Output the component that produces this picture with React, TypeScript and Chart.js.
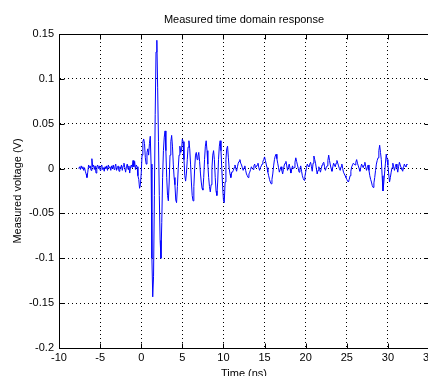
import React, { useEffect, useRef } from "react";
import { Chart, registerables } from "chart.js";

Chart.register(...registerables);

const TITLE = "Measured time domain response";
const X_TITLE = "Time (ns)";
const Y_TITLE = "Measured voltage (V)";

// Pre-pulse noise
const timesA = [-7.6, -7.5, -7.4, -7.3, -7.2, -7.1, -7.0, -6.9, -6.8, -6.7, -6.6, -6.5, -6.4, -6.3, -6.2, -6.1, -6.0, -5.9, -5.8, -5.7, -5.6, -5.5, -5.4, -5.3, -5.2, -5.1, -5.0, -4.9, -4.8, -4.7, -4.6, -4.5, -4.4, -4.3, -4.2, -4.1, -4.0, -3.9, -3.8, -3.7, -3.6, -3.5, -3.4, -3.3, -3.2, -3.1, -3.0, -2.9, -2.8, -2.7, -2.6, -2.5, -2.4, -2.3, -2.2, -2.1, -2.0, -1.9, -1.8, -1.7, -1.6, -1.5, -1.4, -1.3, -1.2, -1.1, -1.0, -0.9, -0.8, -0.7, -0.6];
const voltsA = [0.000, 0.002, -0.001, 0.003, 0.000, 0.002, -0.002, 0.001, -0.003, -0.006, -0.010, -0.004, 0.004, 0.001, 0.003, -0.002, 0.011, 0.002, 0.004, -0.001, 0.003, -0.005, 0.002, 0.004, 0.000, 0.003, -0.002, 0.002, 0.004, -0.001, 0.001, -0.003, 0.002, 0.000, 0.003, -0.002, 0.004, 0.001, 0.002, -0.002, 0.003, 0.000, 0.004, -0.001, 0.002, 0.005, -0.002, 0.001, 0.003, -0.003, 0.002, 0.000, 0.004, -0.002, 0.003, 0.006, 0.001, -0.004, 0.002, 0.005, -0.001, 0.003, -0.005, 0.002, 0.004, 0.001, 0.009, 0.002, 0.008, -0.001, 0.004];

// Main pulse and ringing
const timesB = [-0.5, -0.4, -0.3, -0.2, -0.1, 0.0, 0.1, 0.2, 0.3, 0.4, 0.5, 0.6, 0.7, 0.8, 0.9, 1.0, 1.1, 1.2, 1.3, 1.4, 1.5, 1.6, 1.7, 1.8, 1.9, 2.0, 2.1, 2.2, 2.3, 2.4, 2.5, 2.6, 2.7, 2.8, 2.9, 3.0, 3.1, 3.2, 3.3, 3.4, 3.5, 3.6, 3.7, 3.8, 3.9, 4.0, 4.1, 4.2, 4.3, 4.4, 4.5, 4.6, 4.7, 4.8, 4.9, 5.0, 5.1, 5.2, 5.3, 5.4, 5.5, 5.6, 5.7, 5.8, 5.9, 6.0, 6.1, 6.2, 6.3, 6.4, 6.5, 6.6, 6.7, 6.8, 6.9, 7.0, 7.1, 7.2, 7.3, 7.4, 7.5, 7.6, 7.7, 7.8, 7.9, 8.0, 8.1, 8.2, 8.3, 8.4, 8.5, 8.6, 8.7, 8.8, 8.9, 9.0, 9.1, 9.2, 9.3, 9.4, 9.5, 9.6, 9.7, 9.8, 9.9, 10.0, 10.1, 10.2, 10.3, 10.4, 10.5, 10.6, 10.7, 10.8, 10.9, 11.0];
const voltsB = [0.002, -0.008, -0.012, -0.022, -0.018, -0.005, 0.015, 0.030, 0.033, 0.028, 0.012, 0.005, 0.018, 0.022, 0.015, 0.028, 0.036, 0.005, -0.100, -0.143, -0.120, -0.030, 0.060, 0.130, 0.143, 0.090, 0.030, -0.030, -0.080, -0.100, -0.060, -0.010, 0.020, 0.035, 0.042, 0.020, -0.010, -0.030, -0.036, -0.015, 0.015, 0.030, 0.037, 0.025, 0.005, -0.010, -0.018, -0.035, -0.038, -0.020, 0.000, 0.015, 0.025, 0.018, 0.020, 0.033, 0.030, 0.010, -0.008, -0.014, -0.005, 0.010, 0.024, 0.031, 0.022, 0.005, -0.015, -0.030, -0.036, -0.020, 0.000, 0.015, 0.018, 0.010, 0.014, 0.018, 0.008, -0.005, -0.015, -0.022, -0.024, -0.010, 0.010, 0.025, 0.031, 0.020, 0.005, -0.010, -0.020, -0.026, -0.018, 0.000, 0.015, 0.020, 0.010, -0.010, -0.025, -0.030, -0.015, 0.010, 0.025, 0.031, 0.020, 0.000, -0.020, -0.035, -0.038, -0.015, 0.010, 0.022, 0.025, 0.012, 0.000, -0.006, -0.010, -0.004];

// Tail noise and late echo
const timesC = [11.1, 11.2, 11.3, 11.4, 11.5, 11.6, 11.7, 11.8, 11.9, 12.0, 12.1, 12.2, 12.3, 12.4, 12.5, 12.6, 12.7, 12.8, 12.9, 13.0, 13.1, 13.2, 13.3, 13.4, 13.5, 13.6, 13.7, 13.8, 13.9, 14.0, 14.1, 14.2, 14.3, 14.4, 14.5, 14.6, 14.7, 14.8, 14.9, 15.0, 15.1, 15.2, 15.3, 15.4, 15.5, 15.6, 15.7, 15.8, 15.9, 16.0, 16.1, 16.2, 16.3, 16.4, 16.5, 16.6, 16.7, 16.8, 16.9, 17.0, 17.1, 17.2, 17.3, 17.4, 17.5, 17.6, 17.7, 17.8, 17.9, 18.0, 18.1, 18.2, 18.3, 18.4, 18.5, 18.6, 18.7, 18.8, 18.9, 19.0, 19.1, 19.2, 19.3, 19.4, 19.5, 19.6, 19.7, 19.8, 19.9, 20.0, 20.1, 20.2, 20.3, 20.4, 20.5, 20.6, 20.7, 20.8, 20.9, 21.0, 21.1, 21.2, 21.3, 21.4, 21.5, 21.6, 21.7, 21.8, 21.9, 22.0, 22.1, 22.2, 22.3, 22.4, 22.5, 22.6, 22.7, 22.8, 22.9, 23.0, 23.1, 23.2, 23.3, 23.4, 23.5, 23.6, 23.7, 23.8, 23.9, 24.0, 24.1, 24.2, 24.3, 24.4, 24.5, 24.6, 24.7, 24.8, 24.9, 25.0, 25.1, 25.2, 25.3, 25.4, 25.5, 25.6, 25.7, 25.8, 25.9, 26.0, 26.1, 26.2, 26.3, 26.4, 26.5, 26.6, 26.7, 26.8, 26.9, 27.0, 27.1, 27.2, 27.3, 27.4, 27.5, 27.6, 27.7, 27.8, 27.9, 28.0, 28.1, 28.2, 28.3, 28.4, 28.5, 28.6, 28.7, 28.8, 28.9, 29.0, 29.1, 29.2, 29.3, 29.4, 29.5, 29.6, 29.7, 29.8, 29.9, 30.0, 30.1, 30.2, 30.3, 30.4, 30.5, 30.6, 30.7, 30.8, 30.9, 31.0, 31.1, 31.2, 31.3, 31.4, 31.5, 31.6, 31.7, 31.8, 31.9, 32.0, 32.1, 32.2, 32.3, 32.4];
const voltsC = [-0.004, -0.002, 0.001, 0.004, 0.000, -0.003, 0.002, 0.006, 0.008, 0.010, 0.006, 0.004, 0.001, -0.002, 0.001, 0.003, -0.002, -0.006, -0.008, -0.010, -0.006, -0.004, -0.001, 0.002, 0.000, -0.001, 0.003, 0.005, 0.001, 0.002, 0.004, 0.006, 0.001, -0.002, 0.001, 0.003, 0.005, 0.008, 0.010, 0.013, 0.009, 0.005, 0.001, -0.004, -0.008, -0.012, -0.015, -0.017, -0.012, -0.006, 0.003, 0.010, 0.014, 0.016, 0.011, 0.006, 0.001, -0.004, -0.001, 0.002, -0.002, -0.006, -0.001, 0.004, 0.006, 0.008, 0.003, -0.002, 0.002, 0.005, 0.000, -0.005, -0.001, 0.003, 0.000, 0.001, 0.007, 0.012, 0.008, 0.004, 0.000, -0.004, 0.000, 0.003, -0.003, -0.008, -0.011, -0.013, -0.009, -0.004, 0.001, 0.005, 0.003, 0.002, 0.005, 0.007, 0.002, -0.003, 0.006, 0.014, 0.010, 0.006, 0.000, -0.006, -0.002, 0.002, -0.001, -0.004, 0.000, 0.004, 0.006, 0.007, 0.002, -0.002, 0.001, 0.003, 0.009, 0.015, 0.009, 0.004, 0.000, -0.003, 0.002, 0.006, 0.004, 0.002, 0.006, 0.009, 0.006, 0.003, 0.000, -0.002, 0.002, 0.005, 0.000, -0.004, -0.006, -0.008, -0.010, -0.012, -0.014, -0.015, -0.012, -0.008, -0.003, 0.002, 0.004, 0.006, 0.005, 0.004, 0.007, 0.010, 0.006, 0.003, 0.000, -0.003, 0.001, 0.005, 0.003, 0.001, 0.004, 0.007, 0.002, -0.002, 0.001, 0.004, -0.002, -0.008, -0.012, -0.015, -0.019, -0.021, -0.016, -0.010, -0.002, 0.005, 0.009, 0.012, 0.020, 0.026, 0.018, 0.010, -0.008, -0.025, -0.016, -0.005, 0.006, 0.016, 0.010, 0.004, -0.006, -0.015, -0.010, -0.004, 0.001, 0.006, 0.002, -0.002, 0.002, 0.005, 0.001, -0.004, 0.002, 0.007, 0.004, 0.001, -0.001, -0.003, 0.001, 0.005, 0.003, 0.002, 0.005, 0.004];

const X_MIN = -10;
const X_MAX = 35;
const X_STEP = 5;
const Y_MIN = -0.2;
const Y_MAX = 0.15;
const Y_STEP = 0.05;

const FONT = "'Liberation Sans', Arial, Helvetica, sans-serif";

const matlabBox = {
  id: "matlabBox",
  afterDraw(chart: any) {
    const { ctx, chartArea, scales } = chart;
    const { left, right, top, bottom } = chartArea;
    ctx.save();
    ctx.strokeStyle = "#000";
    ctx.lineWidth = 1;
    ctx.beginPath();
    const L = Math.round(left) + 0.5;
    const R = Math.round(right) + 0.5;
    const T = Math.round(top) + 0.5;
    const B = Math.round(bottom) + 0.5;
    ctx.rect(L, T, R - L, B - T);
    const len = 5;
    scales.x.ticks.forEach((t: any) => {
      const px = Math.round(scales.x.getPixelForValue(t.value)) + 0.5;
      ctx.moveTo(px, B);
      ctx.lineTo(px, B - len);
      ctx.moveTo(px, T);
      ctx.lineTo(px, T + len);
    });
    scales.y.ticks.forEach((t: any) => {
      const py = Math.round(scales.y.getPixelForValue(t.value)) + 0.5;
      ctx.moveTo(L, py);
      ctx.lineTo(L + len, py);
      ctx.moveTo(R, py);
      ctx.lineTo(R - len, py);
    });
    ctx.stroke();
    // Title centred over the axes, as MATLAB does
    ctx.fillStyle = "#000";
    ctx.font = `11px ${FONT}`;
    ctx.textAlign = "center";
    ctx.textBaseline = "middle";
    ctx.fillText(TITLE, (left + right) / 2, 20);
    ctx.restore();
  },
};

export default function App() {
  const ref = useRef<HTMLCanvasElement | null>(null);

  useEffect(() => {
    if (!ref.current) return;
    const times = [...timesA, ...timesB, ...timesC];
    const volts = [...voltsA, ...voltsB, ...voltsC];
    const points = times.map((t, i) => ({ x: t, y: volts[i] }));

    const chart = new Chart(ref.current, {
      type: "line",
      data: {
        datasets: [
          {
            data: points,
            borderColor: "#0000ff",
            borderWidth: 1,
            pointRadius: 0,
            tension: 0,
            fill: false,
          },
        ],
      },
      plugins: [matlabBox],
      options: {
        animation: false,
        responsive: false,
        devicePixelRatio: 1,
        layout: { padding: { left: 0, right: 11, top: 34, bottom: 0 } },
        plugins: {
          legend: { display: false },
          tooltip: { enabled: false },
          title: { display: false },
        },
        scales: {
          x: {
            type: "linear",
            min: X_MIN,
            max: X_MAX,
            afterFit: (s: any) => {
              s.height = 36;
            },
            ticks: {
              stepSize: X_STEP,
              color: "#000",
              font: { family: FONT, size: 11 },
              padding: 3,
              maxRotation: 0,
              autoSkip: false,
            },
            grid: { color: "#000", lineWidth: 1, drawTicks: false },
            border: { display: true, color: "#000", dash: [1, 3] },
            title: {
              display: true,
              text: X_TITLE,
              color: "#000",
              font: { family: FONT, size: 11 },
              padding: { top: 0, bottom: 3 },
            },
          },
          y: {
            type: "linear",
            min: Y_MIN,
            max: Y_MAX,
            afterFit: (s: any) => {
              s.width = 59;
            },
            ticks: {
              stepSize: Y_STEP,
              color: "#000",
              font: { family: FONT, size: 11 },
              padding: 5,
              callback: (v: any) => String(Number(Number(v).toFixed(2))),
            },
            grid: { color: "#000", lineWidth: 1, drawTicks: false },
            border: { display: true, color: "#000", dash: [1, 3] },
            title: {
              display: true,
              text: Y_TITLE,
              color: "#000",
              font: { family: FONT, size: 11 },
              padding: { top: 11, bottom: 0 },
            },
          },
        },
      },
    });
    return () => chart.destroy();
  }, []);

  return (
    <div
      style={{
        position: "fixed",
        left: 0,
        top: 0,
        width: 428,
        height: 376,
        overflow: "hidden",
        background: "#fff",
      }}
    >
      <canvas ref={ref} width={440} height={384} style={{ display: "block", width: 440, height: 384 }} />
    </div>
  );
}
